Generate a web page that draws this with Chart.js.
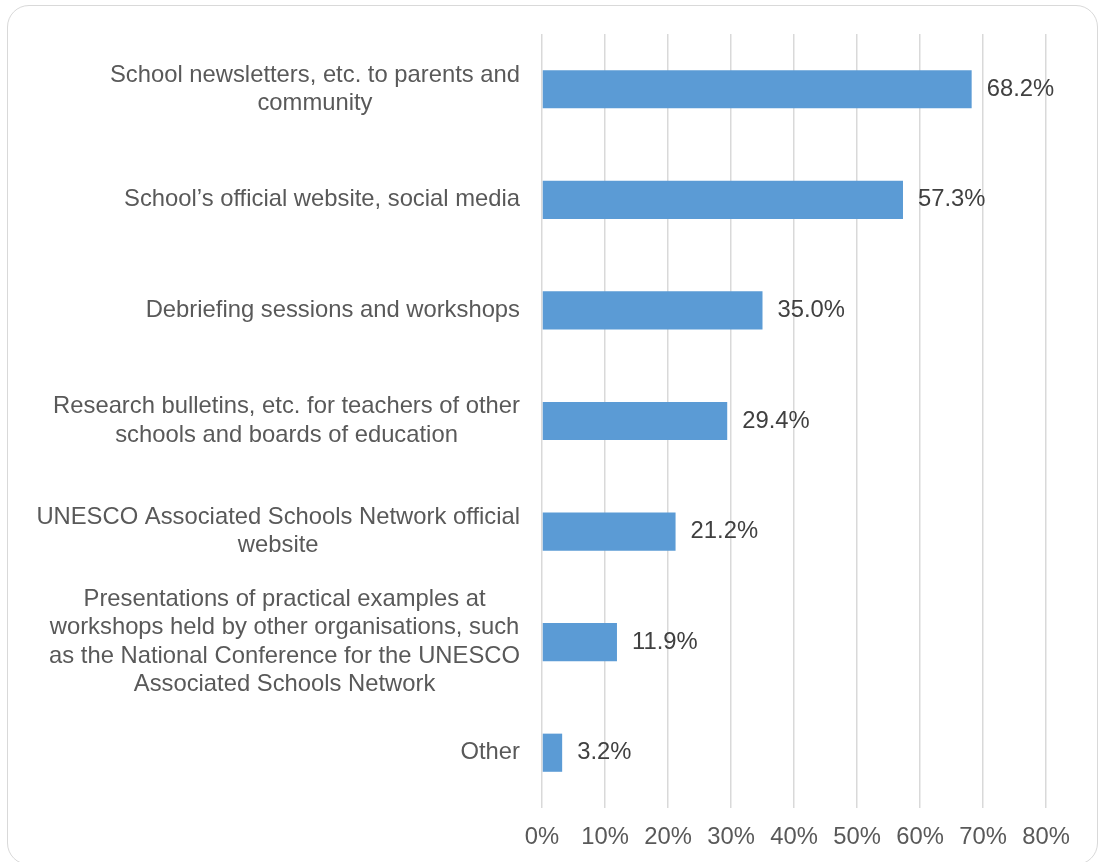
<!DOCTYPE html>
<html>
<head>
<meta charset="utf-8">
<script src="https://cdn.jsdelivr.net/npm/chart.js@4"></script>
<style>
  html, body { margin: 0; padding: 0; background: #fff; }
  #wrap { position: relative; width: 1104px; height: 862px; overflow: hidden; }
  #frame {
    position: absolute; left: 7px; top: 5px; width: 1091px; height: 860px;
    border: 1.5px solid #d9d9d9; border-radius: 22px; box-sizing: border-box;
  }
  canvas { position: absolute; left: 0; top: 0; }
</style>
</head>
<body>
<div id="wrap">
  <div id="frame"></div>
  <canvas id="myChart" width="1104" height="862"></canvas>
</div>
<script>
'use strict';

let categories = [
    ['School newsletters, etc. to parents and', 'community'],
    ['School\u2019s official website, social media'],
    ['Debriefing sessions and workshops'],
    ['Research bulletins, etc. for teachers of other', 'schools and boards of education'],
    ['UNESCO Associated Schools Network official', 'website'],
    ['Presentations of practical examples at', 'workshops held by other organisations, such', 'as the National Conference for the UNESCO', 'Associated Schools Network'],
    ['Other']
];
let values = [68.2, 57.3, 35.0, 29.4, 21.2, 11.9, 3.2];
let tickValues = [0, 10, 20, 30, 40, 50, 60, 70, 80];

let fontFamily = '"Liberation Sans", Arial, sans-serif';

// draw the category labels centred per label, right edge at the axis gap
let categoryLabels = {
    id: 'categoryLabels',
    afterDraw(chart) {
        let ctx = chart.ctx;
        let yScale = chart.scales.y;
        let rightEdge = chart.chartArea.left - 22;
        let lineH = 28.5;
        ctx.save();
        ctx.font = '23.8px ' + fontFamily;
        ctx.fillStyle = '#595959';
        ctx.textAlign = 'center';
        ctx.textBaseline = 'middle';
        categories.forEach(function (lines, i) {
            let widest = 0;
            lines.forEach(function (l) { widest = Math.max(widest, ctx.measureText(l).width); });
            let cx = rightEdge - widest / 2;
            let cy = yScale.getPixelForValue(i);
            let startY = cy - (lines.length - 1) * lineH / 2;
            lines.forEach(function (l, j) { ctx.fillText(l, cx, startY + j * lineH); });
        });
        ctx.restore();
    }
};

let valueLabels = {
    id: 'valueLabels',
    afterDatasetsDraw(chart) {
        let ctx = chart.ctx;
        let meta = chart.getDatasetMeta(0);
        ctx.save();
        ctx.font = '23.8px ' + fontFamily;
        ctx.fillStyle = '#404040';
        ctx.textAlign = 'left';
        ctx.textBaseline = 'middle';
        meta.data.forEach(function (bar, i) {
            ctx.fillText(values[i].toFixed(1) + '%', bar.x + 15, bar.y);
        });
        ctx.restore();
    }
};

let ctx = document.getElementById('myChart').getContext('2d');
let myChart = new Chart(ctx, {
    type: 'bar',
    data: {
        labels: categories.map(function (c) { return c.join(' '); }),
        datasets: [{
            data: values,
            backgroundColor: '#5b9bd5',
            borderWidth: 0,
            categoryPercentage: 1,
            barPercentage: 0.345
        }]
    },
    options: {
        indexAxis: 'y',
        responsive: false,
        animation: false,
        layout: { padding: { top: 34, right: 58, left: 0, bottom: 0 } },
        plugins: {
            legend: { display: false },
            tooltip: { enabled: false }
        },
        scales: {
            x: {
                min: tickValues[0],
                max: tickValues[tickValues.length - 1],
                afterBuildTicks: function (axis) {
                    axis.ticks = tickValues.map(function (v) { return { value: v }; });
                },
                afterFit: function (axis) { axis.height = 54; },
                grid: { color: '#d9d9d9', lineWidth: 1.5, drawTicks: false },
                border: { display: false },
                ticks: {
                    padding: 15,
                    color: '#595959',
                    font: { size: 23.8, family: fontFamily },
                    callback: function (v) { return v + '%'; }
                }
            },
            y: {
                afterFit: function (axis) { axis.width = 542; },
                grid: { display: false, drawTicks: false },
                border: { display: false },
                ticks: { display: false }
            }
        }
    },
    plugins: [categoryLabels, valueLabels]
});
</script>
</body>
</html>
